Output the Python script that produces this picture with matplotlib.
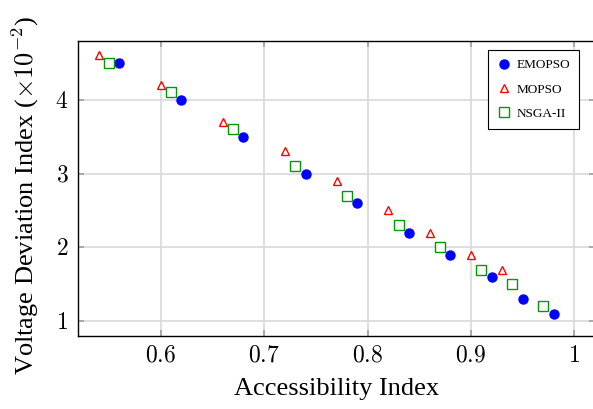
import matplotlib
matplotlib.use('Agg')
import matplotlib.pyplot as plt
from matplotlib.ticker import FuncFormatter

plt.rcParams['font.family'] = ['Liberation Serif', 'DejaVu Serif']
plt.rcParams['mathtext.fontset'] = 'cm'

# data (y in units of 1e-2)
emopso_x = [0.56, 0.62, 0.68, 0.74, 0.79, 0.84, 0.88, 0.92, 0.95, 0.98]
emopso_y = [4.5, 4.0, 3.5, 3.0, 2.6, 2.2, 1.9, 1.6, 1.3, 1.1]
mopso_x = [0.54, 0.60, 0.66, 0.72, 0.77, 0.82, 0.86, 0.90, 0.93]
mopso_y = [4.6, 4.2, 3.7, 3.3, 2.9, 2.5, 2.2, 1.9, 1.7]
nsga_x = [0.55, 0.61, 0.67, 0.73, 0.78, 0.83, 0.87, 0.91, 0.94, 0.97]
nsga_y = [4.5, 4.1, 3.6, 3.1, 2.7, 2.3, 2.0, 1.7, 1.5, 1.2]

xticks = [0.6, 0.7, 0.8, 0.9, 1.0]
yticks = [1, 2, 3, 4]

fig = plt.figure(figsize=(5.93, 4.09), dpi=100)
ax = fig.add_axes([0.1315, 0.1785, 0.872, 0.722])

ax.plot(emopso_x, emopso_y, 'o', color='blue', ms=6.5, mec='blue', label='EMOPSO', zorder=3)
ax.plot(mopso_x, mopso_y, '^', color='red', mfc='white', ms=6, mew=1.0, label='MOPSO', zorder=3)
ax.plot(nsga_x, nsga_y, 's', color='#009900', mfc='white', ms=6.5, mew=1.0, label='NSGA-II', zorder=3)

ax.set_xlim(0.52, 1.02)
ax.set_ylim(0.8, 4.8)
ax.set_xticks(xticks)
ax.set_yticks(yticks)
fmt = FuncFormatter(lambda v, p: '$%g$' % v)
ax.xaxis.set_major_formatter(fmt)
ax.yaxis.set_major_formatter(fmt)
ax.tick_params(direction='in', length=4, width=1.2, color='#a0a0a0',
               top=True, right=True, labelsize=17, pad=7)
ax.grid(True, color='#d9d9d9', linewidth=1.2)
ax.set_axisbelow(True)
for s in ax.spines.values():
    s.set_linewidth(1.0)

ax.set_xlabel('Accessibility Index', fontsize=19)
ax.set_ylabel(r'Voltage Deviation Index ($\times 10^{-2}$)', fontsize=19)
ax.xaxis.set_label_coords(0.5, -0.142)
ax.yaxis.set_label_coords(-0.072, 0.477)

leg = ax.legend(loc='upper right', bbox_to_anchor=(0.969, 0.9685), borderaxespad=0,
                fontsize=9.5, frameon=True, fancybox=False, framealpha=1,
                edgecolor='black', handlelength=1.0, handletextpad=0.4,
                labelspacing=0.9, borderpad=0.7)
leg.get_frame().set_linewidth(0.8)

fig.savefig('out.png', dpi=100)
